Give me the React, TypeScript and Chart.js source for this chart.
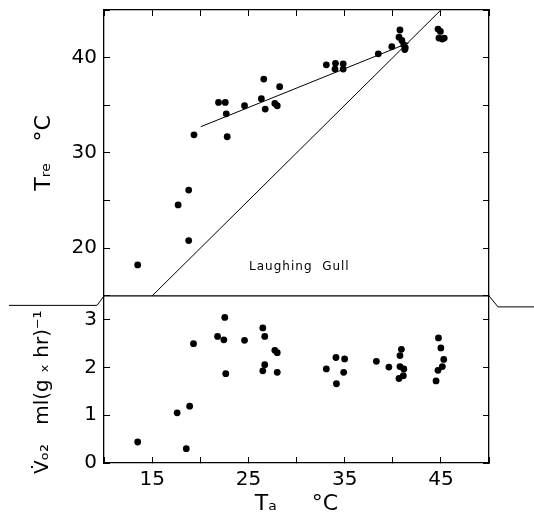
import React, { useEffect, useRef } from 'react';
import { Chart, registerables } from 'chart.js';

Chart.register(...registerables);

// ---- Data ----
// Upper panel: rectal temperature vs air temperature
const airTempUpper = [
  13.5, 17.7, 18.8, 18.8, 19.35, 21.9, 22.6, 22.7, 22.8, 24.6,
  26.35, 26.6, 26.75, 27.75, 28.0, 28.25, 33.1, 34.05, 34.0, 34.85,
  34.85, 38.5, 39.9, 40.75, 40.65, 40.95, 41.15, 41.25, 41.3, 44.7,
  44.95, 44.8, 45.35, 45.15,
];
const rectalTemp = [
  18.25, 24.55, 26.1, 20.8, 31.9, 35.3, 35.3, 34.1, 31.7, 34.95,
  35.7, 37.75, 34.6, 35.2, 34.95, 36.95, 39.25, 39.4, 38.8, 39.35,
  38.8, 40.4, 41.15, 42.9, 42.15, 41.8, 41.35, 40.85, 41.05, 43.0,
  42.75, 42.05, 42.05, 41.95,
];

// Lower panel: oxygen consumption vs air temperature
const airTempLower = [
  13.5, 18.55, 17.6, 18.9, 19.3, 21.8, 22.45, 22.55, 22.65, 24.6,
  26.5, 26.7, 27.75, 28.0, 26.7, 26.5, 28.0, 34.1, 35.0, 33.1,
  34.9, 34.15, 38.3, 39.6, 40.9, 40.75, 40.75, 41.15, 41.1, 40.65,
  44.75, 45.0, 45.3, 45.15, 44.7, 44.5,
];
const oxygenUptake = [
  0.44, 0.30, 1.05, 1.19, 2.50, 2.65, 2.58, 3.05, 1.87, 2.57,
  2.83, 2.65, 2.36, 2.31, 2.06, 1.93, 1.90, 2.21, 2.18, 1.97,
  1.90, 1.66, 2.13, 2.01, 2.38, 2.25, 2.02, 1.97, 1.83, 1.77,
  2.62, 2.41, 2.17, 2.02, 1.94, 1.72,
];

// Line of equality (T_re = T_a) and fitted regression line
const equalityX = [15, 45];
const equalityY = [15, 45];
const fitX = [20.05, 41.65];
const fitY = [32.75, 41.55];

// Tick labels
const xTickLabels = [15, 25, 35, 45];
const yUpperTickLabels = [20, 30, 40];
const yLowerTickLabels = [0, 1, 2, 3];

const speciesLabel = 'Laughing  Gull';
const speciesLabelX = 30.3;
const speciesLabelY = 18.0;

const FONT = '"DejaVu Sans", sans-serif';

const zip = (xs: number[], ys: number[]) => xs.map((x, i) => ({ x, y: ys[i] }));

const tickGrid = {
  display: true,
  drawOnChartArea: false,
  drawTicks: true,
  tickLength: -6,
  color: '#000',
  lineWidth: 1,
};
const frameBorder = { display: true, color: '#000', width: 1.3 };

const noPad = (s: any) => {
  s.paddingTop = 0;
  s.paddingBottom = 0;
  s.paddingLeft = 0;
  s.paddingRight = 0;
};
const fitHeight = (h: number) => (s: any) => { s.height = h; noPad(s); };
const fitWidth = (w: number) => (s: any) => { s.width = w; noPad(s); };

const decorPlugin = {
  id: 'decor',
  afterDraw(chart: any) {
    const { ctx, chartArea } = chart;
    const yL = chart.scales.yL;
    const yU = chart.scales.yU;
    const xs = chart.scales.x;
    const midY = yL.top;
    ctx.save();
    ctx.strokeStyle = '#000';
    ctx.lineWidth = 1.3;
    ctx.beginPath();
    ctx.moveTo(chartArea.left, midY);
    ctx.lineTo(chartArea.right, midY);
    ctx.stroke();
    // axis-break marks
    ctx.lineWidth = 1;
    ctx.beginPath();
    ctx.moveTo(9, midY + 9.5);
    ctx.lineTo(chartArea.left - 7, midY + 9.5);
    ctx.lineTo(chartArea.left, midY);
    ctx.stroke();
    ctx.beginPath();
    ctx.moveTo(chartArea.right, midY);
    ctx.lineTo(chartArea.right + 9, midY + 11);
    ctx.lineTo(chart.width, midY + 11);
    ctx.stroke();
    // species label
    ctx.fillStyle = '#000';
    ctx.font = '12px ' + FONT;
    try { (ctx as any).letterSpacing = '1px'; } catch (e) {}
    ctx.textAlign = 'center';
    ctx.textBaseline = 'middle';
    ctx.fillText(speciesLabel, xs.getPixelForValue(speciesLabelX), yU.getPixelForValue(speciesLabelY));
    ctx.restore();
  },
};

export default function App() {
  const ref = useRef<HTMLCanvasElement | null>(null);

  useEffect(() => {
    if (!ref.current) return;
    const pointStyle = {
      pointRadius: 3.4,
      pointBackgroundColor: '#000',
      pointBorderWidth: 0,
      showLine: false,
    };
    const lineStyle = {
      showLine: true,
      pointRadius: 0,
      borderColor: '#000',
      borderWidth: 1,
      fill: false,
    };
    const chart = new Chart(ref.current, {
      type: 'scatter',
      data: {
        datasets: [
          { label: 'T_re', data: zip(airTempUpper, rectalTemp), xAxisID: 'x', yAxisID: 'yU', ...pointStyle },
          { label: 'VO2', data: zip(airTempLower, oxygenUptake), xAxisID: 'x', yAxisID: 'yL', ...pointStyle },
          { label: 'equality', data: zip(equalityX, equalityY), xAxisID: 'x', yAxisID: 'yU', ...lineStyle },
          { label: 'fit', data: zip(fitX, fitY), xAxisID: 'x', yAxisID: 'yU', ...lineStyle },
        ] as any,
      },
      options: {
        animation: false,
        responsive: false,
        layout: { padding: 0 },
        plugins: { legend: { display: false }, tooltip: { enabled: false } },
        scales: {
          x: {
            type: 'linear',
            position: 'bottom',
            min: 10,
            max: 50,
            grid: tickGrid,
            border: frameBorder,
            ticks: {
              stepSize: 5,
              autoSkip: false,
              maxRotation: 0,
              padding: 11,
              color: '#000',
              font: { size: 20, family: FONT },
              callback: (v: any) => (xTickLabels.includes(Number(v)) ? String(v) : ''),
            },
            title: {
              display: true,
              text: 'Tₐ     °C',
              color: '#000',
              font: { size: 22, family: FONT },
              padding: { top: 0, bottom: 4 },
            },
            afterFit: fitHeight(58),
          },
          x2: {
            type: 'linear',
            position: 'top',
            min: 10,
            max: 50,
            grid: tickGrid,
            border: frameBorder,
            ticks: { stepSize: 5, autoSkip: false, padding: 0, callback: () => '' },
            afterFit: fitHeight(10),
          },
          yL: {
            type: 'linear',
            position: 'left',
            stack: 'left',
            stackWeight: 167,
            min: 0,
            max: 3.5,
            grid: tickGrid,
            border: frameBorder,
            ticks: {
              stepSize: 1,
              includeBounds: false,
              autoSkip: false,
              padding: 13,
              color: '#000',
              font: { size: 20, family: FONT },
              callback: (v: any) => (yLowerTickLabels.includes(Number(v)) ? String(v) : ''),
            },
            title: {
              display: true,
              text: 'V̇ₒ₂   ml(g ₓ hr)⁻¹    ',
              color: '#000',
              font: { size: 20, family: FONT },
              padding: { top: 31, bottom: 0 },
            },
            afterFit: fitWidth(104),
          },
          yU: {
            type: 'linear',
            position: 'left',
            stack: 'left',
            stackWeight: 285.7,
            min: 15,
            max: 45,
            grid: tickGrid,
            border: frameBorder,
            ticks: {
              stepSize: 5,
              autoSkip: false,
              padding: 13,
              color: '#000',
              font: { size: 20, family: FONT },
              callback: (v: any) => (yUpperTickLabels.includes(Number(v)) ? String(v) : ''),
            },
            title: {
              display: true,
              text: 'Tᵣₑ   °C',
              color: '#000',
              font: { size: 22, family: FONT },
              padding: { top: 31, bottom: 0 },
            },
            afterFit: fitWidth(104),
          },
          yUR: {
            type: 'linear',
            position: 'right',
            stack: 'right',
            stackWeight: 285.7,
            min: 15,
            max: 45,
            grid: tickGrid,
            border: frameBorder,
            ticks: { stepSize: 5, autoSkip: false, padding: 0, callback: () => '' },
            afterFit: fitWidth(45),
          },
          yLR: {
            type: 'linear',
            position: 'right',
            stack: 'right',
            stackWeight: 167,
            min: 0,
            max: 3.5,
            grid: tickGrid,
            border: frameBorder,
            ticks: { stepSize: 1, includeBounds: false, autoSkip: false, padding: 0, callback: () => '' },
            afterFit: fitWidth(45),
          },
        } as any,
      },
      plugins: [decorPlugin],
    });
    return () => chart.destroy();
  }, []);

  return (
    <div style={{ position: 'absolute', left: 0, top: 0, width: 534, height: 521, background: '#fff' }}>
      <canvas ref={ref} width={534} height={521} style={{ display: 'block' }} />
    </div>
  );
}
